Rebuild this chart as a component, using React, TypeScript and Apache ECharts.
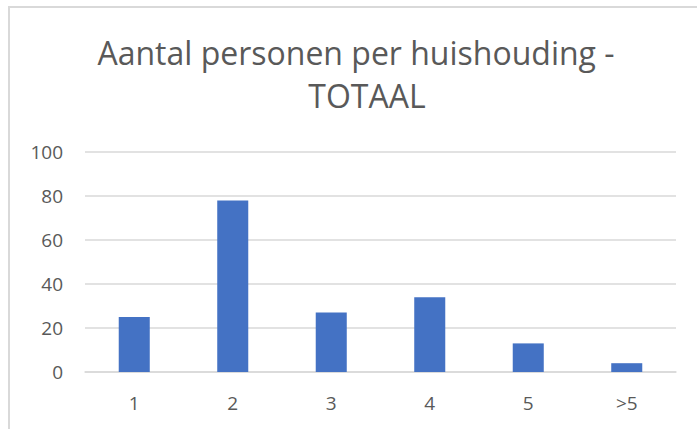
import React, { useEffect, useRef } from "react";
import * as echarts from "echarts";

const categories = ["1", "2", "3", "4", "5", ">5"];
const values = [25, 78, 27, 34, 13, 4];
const titleLine1 = "Aantal personen per huishouding -";
const titleLine2 = "TOTAAL";

export default function App() {
  const ref = useRef<HTMLDivElement>(null);
  useEffect(() => {
    document.body.style.margin = "0";
    const chart = echarts.init(ref.current!, null, { renderer: "svg" });
    const font = "'Open Sans', sans-serif";
    chart.setOption({
      animation: false,
      backgroundColor: "#ffffff",
      graphic: [
        {
          type: "rect",
          shape: { x: 9, y: 7, width: 720, height: 440 },
          style: { fill: "none", stroke: "#d9d9d9", lineWidth: 2 },
          silent: true,
        },
        {
          type: "text",
          x: 356,
          y: 68,
          style: {
            text: titleLine1,
            fill: "#595959",
            font: `32px ${font}`,
            lineHeight: 32,
            align: "center",
            verticalAlign: "bottom",
          },
        },
        {
          type: "text",
          x: 367,
          y: 111,
          style: {
            text: titleLine2,
            fill: "#595959",
            font: `32px ${font}`,
            lineHeight: 32,
            align: "center",
            verticalAlign: "bottom",
          },
        },
      ],
      grid: { left: 85, right: 21, top: 152, bottom: 57, containLabel: false },
      xAxis: {
        type: "category",
        data: categories,
        axisLine: { show: true, lineStyle: { color: "#d9d9d9", width: 1.5 } },
        axisTick: { show: false },
        axisLabel: { color: "#595959", fontSize: 19, fontFamily: font, margin: 21 },
      },
      yAxis: {
        type: "value",
        min: 0,
        max: 100,
        interval: 20,
        axisLine: { show: false },
        axisTick: { show: false },
        splitLine: { lineStyle: { color: "#d9d9d9", width: 1.5 } },
        axisLabel: { color: "#595959", fontSize: 19, fontFamily: font, margin: 22 },
      },
      series: [
        {
          type: "bar",
          data: values,
          barCategoryGap: "68.5%",
          itemStyle: { color: "#4472C4" },
        },
      ],
    });
    return () => chart.dispose();
  }, []);
  return (
    <div
      ref={ref}
      style={{ position: "absolute", left: 0, top: 0, width: 697, height: 429 }}
    />
  );
}
